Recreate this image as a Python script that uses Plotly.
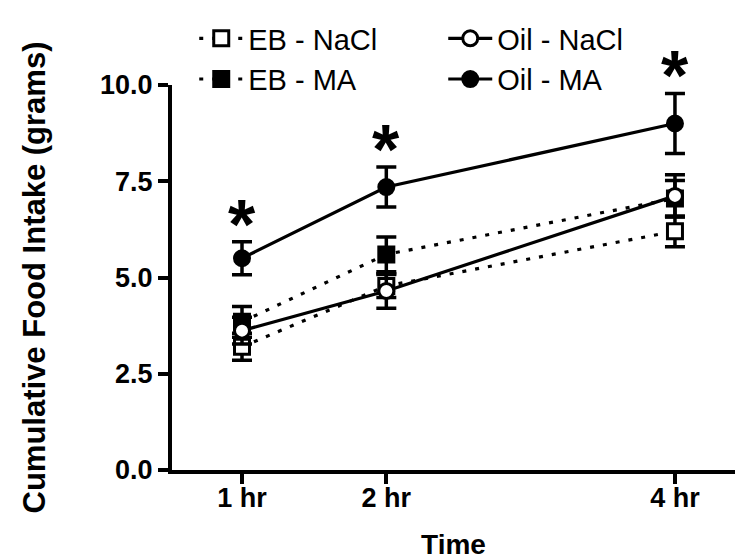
import plotly.graph_objects as go

# ---- data ----
time_hr = [1, 2, 4]
tick_labels = ["1 hr", "2 hr", "4 hr"]

eb_nacl = [3.2, 4.78, 6.2]
eb_nacl_err = [0.35, 0.3, 0.4]
eb_ma = [3.85, 5.6, 7.05]
eb_ma_err = [0.4, 0.45, 0.47]
oil_nacl = [3.62, 4.65, 7.12]
oil_nacl_err = [0.35, 0.45, 0.55]
oil_ma = [5.5, 7.35, 9.0]
oil_ma_err = [0.43, 0.52, 0.78]
sig_marks = ["*", "*", "*"]

FONT = "Liberation Sans, Arial, sans-serif"

fig = go.Figure()

def add_series(name, y, err, symbol, fill, dash, rank):
    fig.add_trace(go.Scatter(
        x=time_hr, y=y, name=name, mode="lines+markers",
        line=dict(color="black", width=3.2, dash=dash),
        marker=dict(symbol=symbol, size=15, color=fill,
                    line=dict(color="black", width=3)),
        error_y=dict(type="data", array=err, visible=True,
                     color="black", thickness=3.5, width=10),
        legendrank=rank, cliponaxis=False,
    ))

add_series("EB - NaCl", eb_nacl, eb_nacl_err, "square", "white", "4px,9px", 1)
add_series("EB - MA", eb_ma, eb_ma_err, "square", "black", "4px,9px", 3)
add_series("Oil - NaCl", oil_nacl, oil_nacl_err, "circle", "white", "solid", 2)
add_series("Oil - MA", oil_ma, oil_ma_err, "circle", "black", "solid", 4)

# significance asterisks above Oil - MA error bars
sig_y = [m + e for m, e in zip(oil_ma, oil_ma_err)]
for xv, yv, mark in zip(time_hr, sig_y, sig_marks):
    fig.add_annotation(
        x=xv, y=yv, text=mark, showarrow=False,
        xanchor="center", yanchor="middle", yshift=17,
        font=dict(family=FONT, size=70, color="black", weight="bold"),
    )

fig.update_layout(
    width=742, height=552,
    margin=dict(l=164, r=15, t=77, b=90, autoexpand=False),
    paper_bgcolor="white", plot_bgcolor="white",
    font=dict(family=FONT, color="black"),
    showlegend=True,
    legend=dict(
        orientation="h", xref="container", yref="container",
        x=0.251, y=0.991, xanchor="left", yanchor="top",
        entrywidth=190, entrywidthmode="pixels",
        font=dict(family=FONT, size=29, color="black"),
        itemwidth=44, tracegroupgap=0, bgcolor="rgba(0,0,0,0)",
        traceorder="normal",
    ),
)

fig.update_xaxes(
    range=[0.515, 4.416], tickvals=time_hr, ticktext=tick_labels,
    showline=True, linewidth=4, linecolor="black",
    ticks="outside", ticklen=10, tickwidth=4, tickcolor="black",
    showgrid=False, zeroline=False, automargin=False,
    ticklabelstandoff=-9,
    tickfont=dict(family=FONT, size=27, color="black", weight="bold"),
    title=dict(text="Time", standoff=24,
               font=dict(family=FONT, size=28, color="black", weight="bold")),
)
fig.update_yaxes(
    range=[0, 10], tickvals=[0, 2.5, 5, 7.5, 10], tickformat=".1f",
    showline=True, linewidth=4, linecolor="black",
    ticks="outside", ticklen=10, tickwidth=4, tickcolor="black",
    showgrid=False, zeroline=False, automargin=False,
    tickfont=dict(family=FONT, size=27, color="black", weight="bold"),
    title=dict(text="Cumulative Food Intake (grams)", standoff=46,
               font=dict(family=FONT, size=31, color="black", weight="bold")),
)

fig.write_html("out.html")
